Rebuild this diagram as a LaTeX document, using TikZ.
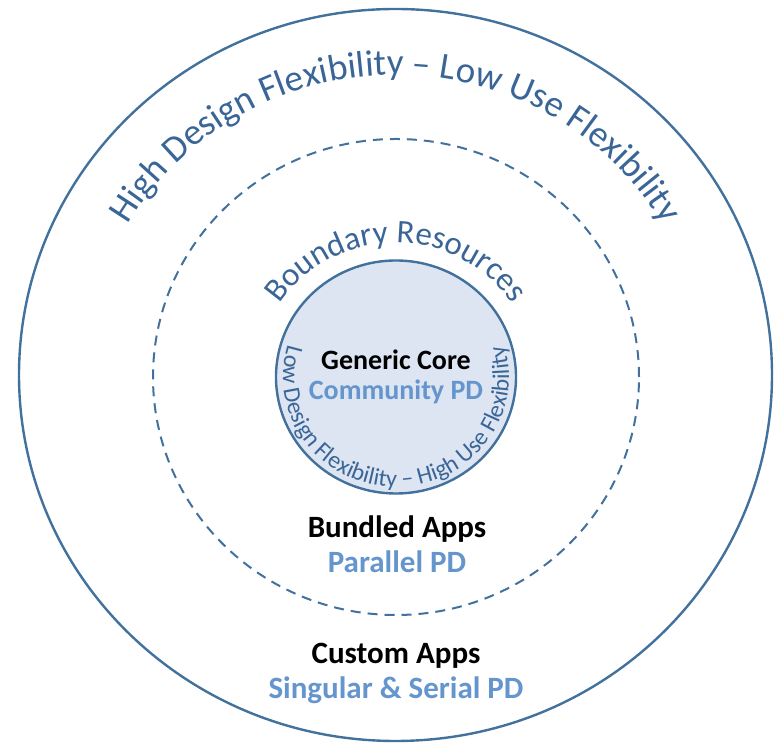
\documentclass[tikz,border=0pt]{standalone}
\usepackage{fontspec}
\setmainfont{Carlito}
\usetikzlibrary{decorations.text}
\definecolor{ringblue}{HTML}{41719C}
\definecolor{curveblue}{HTML}{3A6597}
\definecolor{lightblue}{HTML}{6495CD}
\definecolor{corefill}{HTML}{DCE5F1}
\tikzset{
  ring/.style={draw=ringblue, line width=2.4pt},
  dashring/.style={draw=ringblue, line width=2pt, dash pattern=on 10pt off 7pt},
  blacklabel/.style={anchor=base, font=\fontsize{31}{36}\selectfont\bfseries, text=black, inner sep=0pt},
  bluelabel/.style={anchor=base, font=\fontsize{31}{36}\selectfont\bfseries, text=lightblue, inner sep=0pt},
}
\begin{document}
\begin{tikzpicture}[x=1pt,y=1pt]
\useasboundingbox (0,0) rectangle (776,743);
\coordinate (O) at (395.5,368);
\coordinate (C) at (396,366);
% outer ring
\draw[ring] (O) ellipse [x radius=376.5, y radius=366];
% dashed ring
\draw[dashring] (C) ellipse [x radius=243, y radius=238];
% core
\draw[ring, fill=corefill] (C) ellipse [x radius=120, y radius=116.5];
% curved texts
\path[decorate, decoration={text along path, text align=center, text color=curveblue,
  text={|\fontsize{37}{40}\selectfont|High Design Flexibility – Low Use Flexibility}}]
  (O) ++(180:309 and 300) arc[start angle=180, end angle=0, x radius=309, y radius=300];
\path[decorate, decoration={text along path, text align=center, text color=curveblue,
  text={|\fontsize{33}{36}\selectfont|Boundary Resources}}]
  (C) ++(180:139 and 134) arc[start angle=180, end angle=0, x radius=139, y radius=134];
\path[decorate, decoration={text along path, text align=center, text color=curveblue,
  text={|\fontsize{24}{26}\selectfont|Low Design Flexibility – High Use Flexibility}}]
  (C) ++(140:113 and 110) arc[start angle=140, end angle=400, x radius=113, y radius=110];
% labels
\node[blacklabel, font=\fontsize{28}{32}\selectfont\bfseries] (core) at (396,373) {Generic Core};
\node[bluelabel, font=\fontsize{28}{32}\selectfont\bfseries] (community) at (396,343) {Community PD};
\node[blacklabel] (bundled) at (397,205) {Bundled Apps};
\node[bluelabel] (parallel) at (397,170) {Parallel PD};
\node[blacklabel] (custom) at (396,79.5) {Custom Apps};
\node[bluelabel] (singular) at (396,44) {Singular \& Serial PD};
\end{tikzpicture}
\end{document}
